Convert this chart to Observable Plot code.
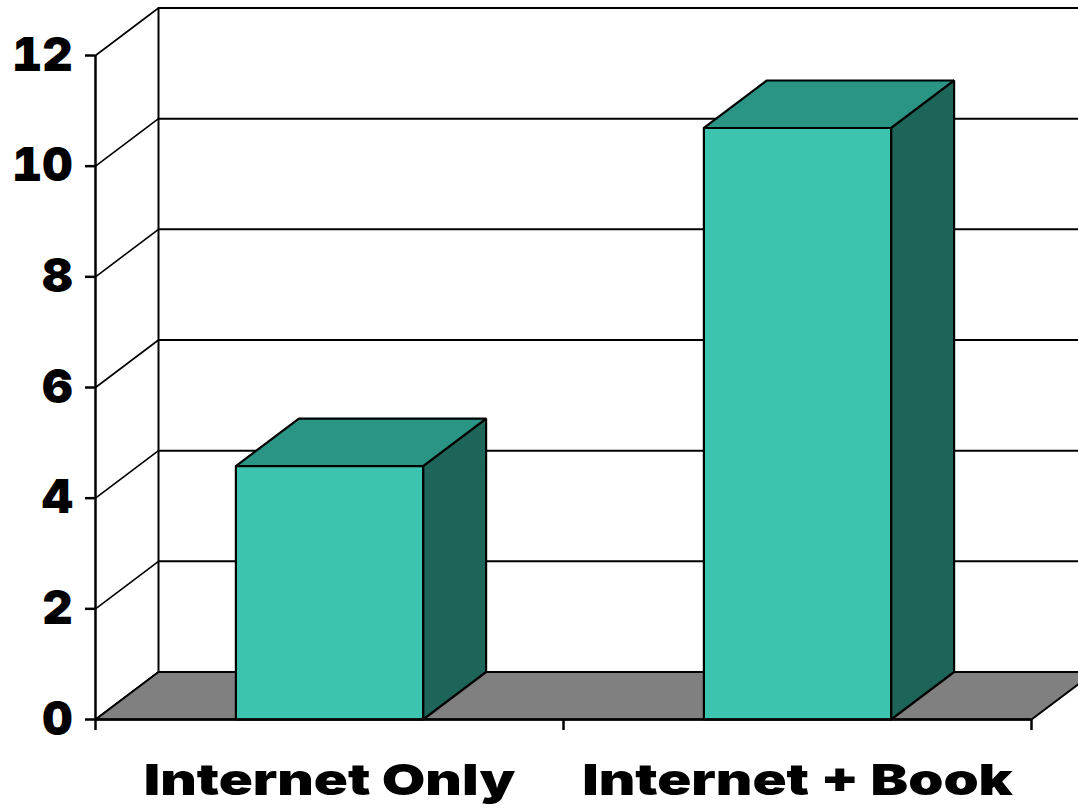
<!DOCTYPE html>
<html>
<head>
<meta charset="utf-8">
<script src="https://cdn.jsdelivr.net/npm/d3@7"></script>
<script src="https://cdn.jsdelivr.net/npm/@observablehq/plot@0.6"></script>
<style>
  html, body { margin: 0; padding: 0; background: white; overflow: hidden; }
  #chart svg { display: block; overflow: hidden; }
</style>
</head>
<body>
<div id="chart"></div>
<script>
// ---- data ----
const categories = ["Internet Only", "Internet + Book"];
const values = [4.58, 10.69];
const yTicks = [0, 2, 4, 6, 8, 10, 12];

// ---- layout ----
const width = 1078, height = 812;
const ml = 95, mr = 47, mt = 55, mb = 93;
const DX = 63, DY = -47.5;          // 3D depth offset in pixels
const kx = (width - ml - mr) / categories.length;
const ky = (height - mt - mb) / 12;
const ddx = DX / kx, ddy = -DY / ky; // depth in data units
const back = (x, y) => [x + ddx, y + ddy];
const barHalf = 0.2;

const colFront = "#3cc4b1", colTop = "#2b9585", colSide = "#1e6559", colFloor = "#808080";

function poly(id, pts) {
  const closed = [...pts, pts[0]];
  return closed.map(([x, y]) => ({id, x, y}));
}

const bars = categories.map((c, i) => ({c, v: values[i], x1: i + 0.5 - barHalf, x2: i + 0.5 + barHalf}));
const sides = bars.flatMap((b, i) => poly("s" + i, [[b.x2, 0], [b.x2, b.v], back(b.x2, b.v), back(b.x2, 0)]));
const tops = bars.flatMap((b, i) => poly("t" + i, [[b.x1, b.v], [b.x2, b.v], back(b.x2, b.v), back(b.x1, b.v)]));
const fronts = bars.flatMap((b, i) => poly("f" + i, [[b.x1, 0], [b.x2, 0], [b.x2, b.v], [b.x1, b.v]]));
const n = categories.length;
const floor = poly("floor", [[0, 0], back(0, 0), back(n, 0), [n, 0]]);
const diagonals = yTicks.flatMap(t => [{id: t, x: 0, y: t}, {id: t, x: back(0, t)[0], y: back(0, t)[1]}]);
const xRight = (width - ml - DX) / kx;

const font = "Inter, 'DejaVu Sans', sans-serif";

const chart = Plot.plot({
  width, height,
  marginLeft: ml, marginRight: mr, marginTop: mt, marginBottom: mb,
  x: {domain: [0, n], axis: null},
  y: {domain: [0, 12], axis: null},
  marks: [
    // back wall gridlines
    Plot.ruleY(yTicks.filter(t => t > 0), {x1: 0, x2: xRight, dx: DX, dy: DY, stroke: "black", strokeWidth: 2}),
    // left wall diagonals
    Plot.line(diagonals, {x: "x", y: "y", z: "id", stroke: "black", strokeWidth: 1.6}),
    // back-left vertical edge
    Plot.ruleX([0], {y1: 0, y2: 12, dx: DX, dy: DY, stroke: "black", strokeWidth: 2}),
    // floor
    Plot.line(floor, {x: "x", y: "y", z: "id", fill: colFloor, stroke: "black", strokeWidth: 2}),
    // front left axis
    Plot.ruleX([0], {y1: 0, y2: 12, stroke: "black", strokeWidth: 2.5}),
    Plot.axisY({ticks: yTicks, label: null, tickSize: 10, tickPadding: 13, strokeWidth: 2.5,
      fontSize: 47, fontWeight: 900, fontFamily: font, fill: "black"}),
    // bars
    Plot.line(sides, {x: "x", y: "y", z: "id", fill: colSide, stroke: "black", strokeWidth: 2.2, strokeLinejoin: "miter"}),
    Plot.line(tops, {x: "x", y: "y", z: "id", fill: colTop, stroke: "black", strokeWidth: 2.2, strokeLinejoin: "miter"}),
    Plot.line(fronts, {x: "x", y: "y", z: "id", fill: colFront, stroke: "black", strokeWidth: 2.2, strokeLinejoin: "miter"}),
    // front bottom axis
    Plot.ruleY([0], {x1: 0, x2: n, stroke: "black", strokeWidth: 2.5}),
    Plot.axisX({ticks: d3.range(n + 1), label: null, tickSize: 11, tickFormat: () => "", strokeWidth: 2.5}),
    // category labels
    Plot.text(bars, {x: d => (d.x1 + d.x2) / 2, y: 0, text: "c", dy: 62, fontSize: 43, fontWeight: 900,
      fontFamily: font, fill: "black", textAnchor: "middle", lineAnchor: "middle", className: "catlabel"})
  ]
});
document.getElementById("chart").appendChild(chart);
// widen the heavy labels to mimic the original's extra-wide black typeface
chart.querySelectorAll(".catlabel text").forEach(t => {
  const w = t.getComputedTextLength();
  t.setAttribute("textLength", (w * 1.31).toFixed(1));
  t.setAttribute("lengthAdjust", "spacingAndGlyphs");
});
</script>
</body>
</html>
